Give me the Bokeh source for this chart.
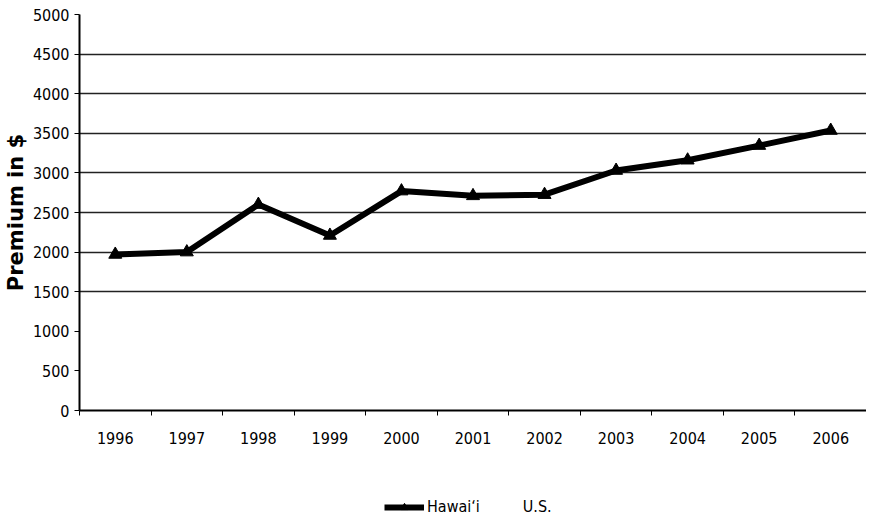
from bokeh.plotting import figure
from bokeh.layouts import column
from bokeh.models import FixedTicker, Legend, LegendItem, ColumnDataSource
from bokeh.embed import file_html
from bokeh.resources import INLINE

years = ["1996", "1997", "1998", "1999", "2000", "2001", "2002", "2003", "2004", "2005", "2006"]
hawaii = [1970, 2000, 2600, 2210, 2770, 2710, 2725, 3030, 3160, 3345, 3535]
y_ticks = [0, 500, 1000, 1500, 2000, 2500, 3000, 3500, 4000, 4500, 5000]
grid_levels = [1500, 2000, 2500, 3000, 3500, 4000, 4500, 5000]

FONT = "'Liberation Sans Narrow', 'DejaVu Sans Condensed', 'Liberation Sans', sans-serif"

xs = list(range(len(years)))

p = figure(width=866, height=476, output_backend="svg", toolbar_location=None,
           x_range=(-0.5, len(years) - 0.5), y_range=(0, 5000),
           min_border_left=78, min_border_top=14, min_border_bottom=66, min_border_right=0)
p.outline_line_color = None
p.background_fill_color = "white"

# axes
p.xaxis.ticker = FixedTicker(ticks=xs, minor_ticks=[i - 0.5 for i in range(len(years) + 1)])
p.xaxis.major_label_overrides = {i: y for i, y in enumerate(years)}
p.xaxis.major_tick_out = 0
p.xaxis.major_tick_in = 0
p.xaxis.minor_tick_out = 5
p.xaxis.minor_tick_in = 0
p.xaxis.axis_line_width = 2
p.xaxis.major_label_standoff = 16
p.xaxis.major_label_text_font = FONT
p.xaxis.major_label_text_font_size = "16px"
p.xaxis.major_label_text_color = "black"

p.yaxis.ticker = FixedTicker(ticks=y_ticks, minor_ticks=[])
p.yaxis.major_tick_out = 5
p.yaxis.major_tick_in = 0
p.yaxis.axis_line_width = 2
p.yaxis.major_label_text_font = FONT
p.yaxis.major_label_text_font_size = "16px"
p.yaxis.major_label_text_color = "black"
p.yaxis.axis_label = "Premium in $"
p.yaxis.axis_label_text_font = "DejaVu Sans"
p.yaxis.axis_label_text_font_style = "bold"
p.yaxis.axis_label_text_font_size = "21px"
p.yaxis.axis_label_text_color = "black"
p.yaxis.axis_label_standoff = 2

p.xgrid.visible = False
p.ygrid.ticker = FixedTicker(ticks=grid_levels)
p.ygrid.grid_line_color = "#222222"
p.ygrid.grid_line_width = 1.5

src = ColumnDataSource(dict(x=xs, y=hawaii))
p.line("x", "y", source=src, line_color="black", line_width=6)
p.scatter("x", "y", source=src, marker="triangle", size=13, fill_color="black", line_color="black")

# separate strip for the legend below the chart (its ranges keep the series out of view)
lg = figure(width=866, height=40, output_backend="svg", toolbar_location=None,
            x_axis_type=None, y_axis_type=None, x_range=(0, 1), y_range=(-2, -1),
            min_border=0)
lg.outline_line_color = None
lg.xgrid.visible = False
lg.ygrid.visible = False
hl = lg.line("x", "y", source=src, line_color="black", line_width=6)
hm = lg.scatter("x", "y", source=src, marker="triangle", size=13, fill_color="black", line_color="black")
us = lg.line("x", "y", source=src, line_color="white", line_width=5, line_alpha=0)

legend = Legend(items=[LegendItem(label="Hawai\u2018i", renderers=[hl, hm]),
                       LegendItem(label="U.S.", renderers=[us])],
                orientation="horizontal", location=(305, 0),
                border_line_color=None, background_fill_alpha=0,
                label_text_font=FONT, label_text_font_size="16px",
                label_text_color="black",
                glyph_width=40, glyph_height=18, spacing=0, label_standoff=3,
                padding=2, margin=0)
lg.add_layout(legend, "center")

layout = column(p, lg, spacing=0)
open("out.html", "w").write(file_html(layout, INLINE))
